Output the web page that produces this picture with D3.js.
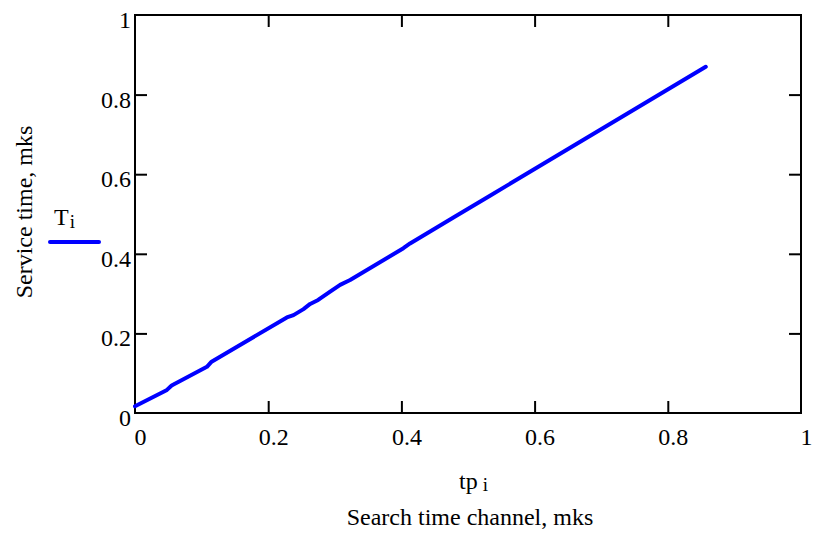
<!DOCTYPE html>
<html>
<head>
<meta charset="utf-8">
<script src="https://cdn.jsdelivr.net/npm/d3@7"></script>
<style>
  html, body { margin: 0; padding: 0; background: #fff; }
  svg { display: block; }
  text { font-family: "Liberation Serif", "Times New Roman", serif; fill: #000; }
</style>
</head>
<body>
<svg id="chart" width="814" height="539"></svg>
<script>
// Data
const tp = [0, 0.048, 0.055, 0.108, 0.115, 0.228, 0.238, 0.253, 0.263, 0.275, 0.293, 0.308, 0.323, 0.403, 0.413, 0.48, 0.533, 0.857];
const T  = [0.017, 0.058, 0.069, 0.116, 0.129, 0.240, 0.246, 0.261, 0.274, 0.284, 0.305, 0.322, 0.334, 0.414, 0.426, 0.493, 0.546, 0.870];
const xTicks = [0, 0.2, 0.4, 0.6, 0.8, 1];
const yTicks = [0, 0.2, 0.4, 0.6, 0.8, 1];
const xTickLabels = ["0", "0.2", "0.4", "0.6", "0.8", "1"];
const yTickLabels = ["0", "0.2", "0.4", "0.6", "0.8", "1"];

const svg = d3.select("#chart");
const L = 135, R = 801, Tp = 15, B = 413;
const x = d3.scaleLinear().domain([0, 1]).range([L, R]);
const y = d3.scaleLinear().domain([0, 1]).range([B, Tp]);
const tickLen = 12;
const fs = "24px";

// Frame
svg.append("rect").attr("x", L).attr("y", Tp).attr("width", R - L).attr("height", B - Tp)
  .attr("fill", "none").attr("stroke", "#000").attr("stroke-width", 2);

// Ticks using axes (inward)
const bottomAx = d3.axisBottom(x).tickValues(xTicks).tickSizeInner(-tickLen).tickSizeOuter(0)
  .tickFormat((d, i) => xTickLabels[i]);
const gB = svg.append("g").attr("transform", `translate(0,${B})`).call(bottomAx);
const topAx = d3.axisTop(x).tickValues(xTicks).tickSizeInner(-tickLen).tickSizeOuter(0).tickFormat("");
const gT = svg.append("g").attr("transform", `translate(0,${Tp})`).call(topAx);
const leftAx = d3.axisLeft(y).tickValues(yTicks).tickSizeInner(-tickLen).tickSizeOuter(0)
  .tickFormat((d, i) => yTickLabels[i]);
const gL = svg.append("g").attr("transform", `translate(${L},0)`).call(leftAx);
const rightAx = d3.axisRight(y).tickValues(yTicks).tickSizeInner(-tickLen).tickSizeOuter(0).tickFormat("");
const gR = svg.append("g").attr("transform", `translate(${R},0)`).call(rightAx);

[gB, gT, gL, gR].forEach(g => {
  g.select(".domain").remove();
  g.selectAll(".tick line").attr("stroke", "#000").attr("stroke-width", 2);
  g.selectAll(".tick text").attr("font-family", "Liberation Serif, serif").attr("font-size", fs).attr("fill", "#000");
  g.selectAll(".tick").filter(d => d === 0 || d === 1).select("line").remove();
});
gB.selectAll(".tick text").attr("x", 5).attr("y", 32).attr("dy", 0);
gL.selectAll(".tick text").attr("x", -4).attr("y", 12.5).attr("dy", 0);

// Line
const line = d3.line().x((d, i) => x(tp[i])).y((d, i) => y(T[i]));
svg.append("path").datum(tp).attr("d", line).attr("fill", "none")
  .attr("stroke", "#0000ff").attr("stroke-width", 4).attr("stroke-linejoin", "round").attr("stroke-linecap", "round");

// Legend
svg.append("line").attr("x1", 50).attr("x2", 99).attr("y1", 242).attr("y2", 242)
  .attr("stroke", "#0000ff").attr("stroke-width", 4).attr("stroke-linecap", "round");
const lg = svg.append("text").attr("x", 54).attr("y", 225).attr("font-size", fs);
lg.append("tspan").text("T");
lg.append("tspan").attr("dx", 1).attr("dy", 3).attr("font-size", "19px").text("i");

// X axis titles
const xt = svg.append("text").attr("x", 459).attr("y", 489).attr("font-size", fs);
xt.append("tspan").text("tp");
xt.append("tspan").attr("dx", 5).attr("dy", 2).attr("font-size", "19px").text("i");
svg.append("text").attr("x", 470).attr("y", 525).attr("text-anchor", "middle").attr("font-size", fs)
  .text("Search time channel, mks");

// Y axis title
svg.append("text").attr("transform", "translate(32,212) rotate(-90)").attr("text-anchor", "middle")
  .attr("font-size", fs).text("Service time, mks");
</script>
</body>
</html>
